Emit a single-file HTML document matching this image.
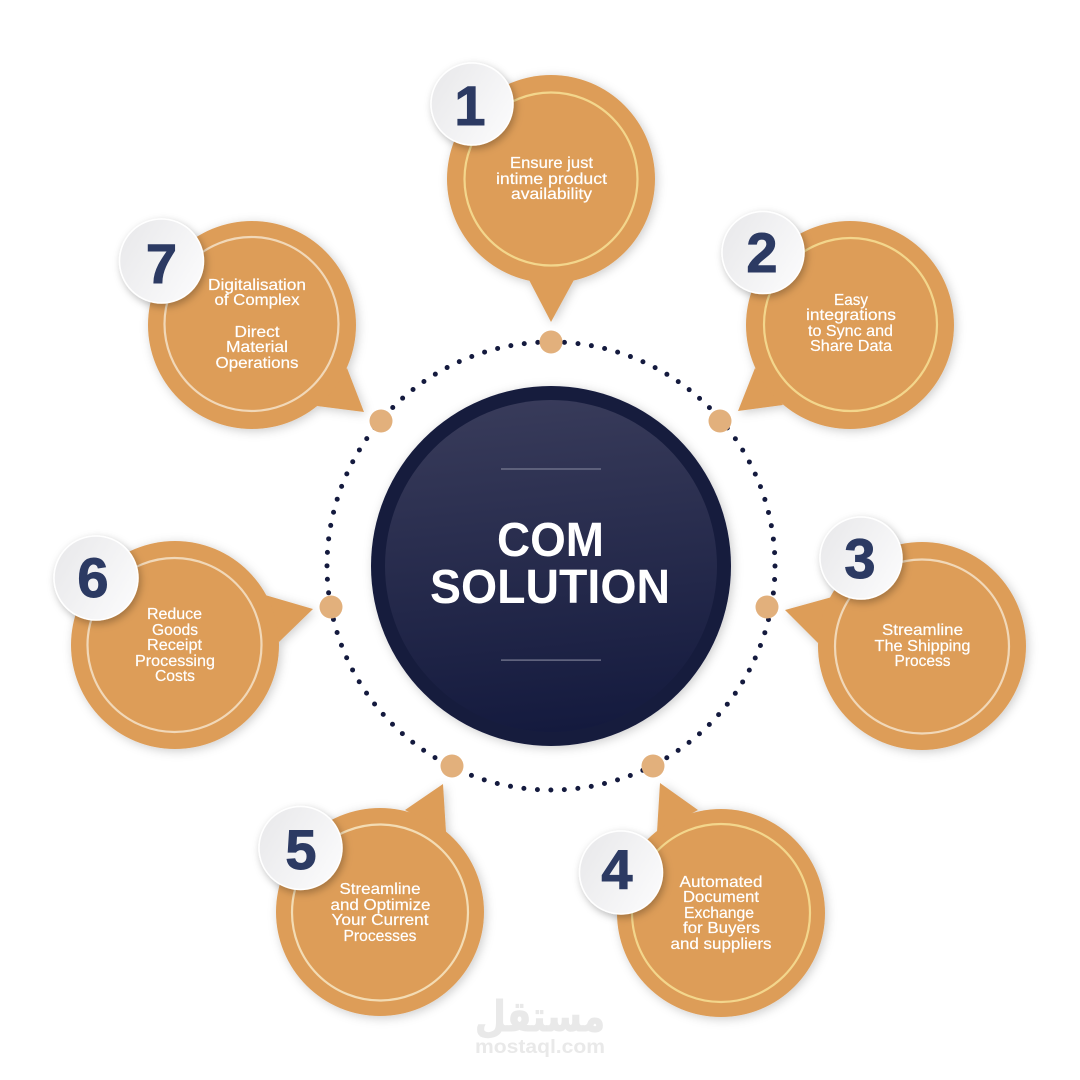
<!DOCTYPE html>
<html><head><meta charset="utf-8"><style>
html,body{margin:0;padding:0;background:#fff}
svg{display:block}
.t{font-family:"Liberation Sans",sans-serif;font-size:16px;fill:#fff;text-anchor:middle;stroke:#fff;stroke-width:.2px}
.n{font-family:"Liberation Sans",sans-serif;font-size:56px;font-weight:bold;fill:#2c3a63;text-anchor:middle;stroke:#2c3a63;stroke-width:1px}
.h{font-family:"Liberation Sans",sans-serif;font-size:48px;font-weight:bold;fill:#fff;text-anchor:middle}
</style></head><body>
<svg width="1080" height="1080" viewBox="0 0 1080 1080" xmlns="http://www.w3.org/2000/svg">
<defs>
<linearGradient id="g" x1="0.45" y1="0" x2="0.55" y2="1"><stop offset="0" stop-color="#383b5a"/><stop offset="1" stop-color="#141a3e"/></linearGradient>
<linearGradient id="b" x1="0" y1="0.2" x2="1" y2="0.8"><stop offset="0" stop-color="#e9e9eb"/><stop offset="1" stop-color="#fbfbfc"/></linearGradient>
<filter id="s" x="-20%" y="-20%" width="140%" height="140%"><feDropShadow dx="2" dy="2" stdDeviation="5" flood-color="#000" flood-opacity=".2"/></filter>
<filter id="s2" x="-20%" y="-20%" width="140%" height="140%"><feDropShadow dx="2" dy="3" stdDeviation="4" flood-color="#000" flood-opacity=".28"/></filter>
</defs>

<!-- dotted ring -->
<circle cx="551" cy="566" r="224" fill="none" stroke="#141a3e" stroke-width="5" stroke-linecap="round" stroke-dasharray="0 13.533" transform="rotate(-90 551 566)"/>
<g fill="#e2b07c">
<circle cx="551" cy="342" r="11.5"/><circle cx="720" cy="421" r="11.5"/><circle cx="767" cy="607" r="11.5"/><circle cx="653" cy="766" r="11.5"/><circle cx="452" cy="766" r="11.5"/><circle cx="331" cy="607" r="11.5"/><circle cx="381" cy="421" r="11.5"/>
</g>

<!-- centre -->
<circle cx="551" cy="566" r="180" fill="#141a3e" filter="url(#s)"/>
<circle cx="551" cy="566" r="166" fill="url(#g)"/>
<rect x="501" y="468.500" width="100" height="1" fill="#8a8da2"/>
<rect x="501" y="659.500" width="100" height="1.200" fill="#7d8097"/>
<text class="h" x="550.500" y="556" textLength="107" lengthAdjust="spacingAndGlyphs">COM</text>
<text class="h" x="550" y="603" textLength="240" lengthAdjust="spacingAndGlyphs">SOLUTION</text>

<!-- bubbles -->
<g fill="#dd9d59" filter="url(#s)">
<path d="M551 322L528 278H575Z"/><circle cx="551" cy="179" r="104"/>
</g>
<g fill="#dd9d59" filter="url(#s)">
<path d="M738 411L755 368L783 405Z"/><circle cx="850" cy="325" r="104"/>
</g>
<g fill="#dd9d59" filter="url(#s)">
<path d="M785 610L832 597L818 643Z"/><circle cx="922" cy="646" r="104"/>
</g>
<g fill="#dd9d59" filter="url(#s)">
<path d="M660 783L698 810L657 832Z"/><circle cx="721" cy="913" r="104"/>
</g>
<g fill="#dd9d59" filter="url(#s)">
<path d="M443 784L405 810L446 832Z"/><circle cx="380" cy="912" r="104"/>
</g>
<g fill="#dd9d59" filter="url(#s)">
<path d="M313 609L265 595L279 642Z"/><circle cx="175" cy="645" r="104"/>
</g>
<g fill="#dd9d59" filter="url(#s)">
<path d="M364 412L347 368L317 406Z"/><circle cx="252" cy="325" r="104"/>
</g>

<!-- inner rings -->
<g fill="none" stroke-width="2.200">
<circle cx="551" cy="179" r="86.500" stroke="#f3d68c"/>
<circle cx="850.500" cy="324.500" r="86.500" stroke="#f3d68c"/>
<circle cx="922" cy="646.500" r="87" stroke="#f1d8b8"/>
<circle cx="721" cy="913" r="89" stroke="#f3d68c"/>
<circle cx="380" cy="912.500" r="88" stroke="#f3dcb4"/>
<circle cx="174.500" cy="645" r="87" stroke="#f1d8b8"/>
<circle cx="251.500" cy="324" r="87" stroke="#f1d8b8"/>
</g>

<!-- badges -->
<g fill="url(#b)" stroke="#fff" stroke-width="1.500" filter="url(#s2)">
<circle cx="472" cy="104" r="41"/>
<circle cx="763" cy="252.500" r="41"/>
<circle cx="861" cy="558" r="41"/>
<circle cx="621" cy="872.500" r="41.500"/>
<circle cx="300.500" cy="848" r="41.500"/>
<circle cx="96" cy="578" r="42"/>
<circle cx="161.500" cy="261" r="42"/>
</g>
<text class="n" x="470" y="125">1</text>
<text class="n" x="762" y="272">2</text>
<text class="n" x="860" y="578">3</text>
<text class="n" x="617" y="889">4</text>
<text class="n" x="301" y="869">5</text>
<text class="n" x="93" y="597">6</text>
<text class="n" x="161.500" y="283">7</text>

<!-- labels -->
<text class="t" x="551.500" y="168" textLength="83" lengthAdjust="spacingAndGlyphs">Ensure just</text>
<text class="t" x="551.500" y="184" textLength="111" lengthAdjust="spacingAndGlyphs">intime product</text>
<text class="t" x="551.500" y="199" textLength="81" lengthAdjust="spacingAndGlyphs">availability</text>

<text class="t" x="851" y="305" textLength="34" lengthAdjust="spacingAndGlyphs">Easy</text>
<text class="t" x="851" y="320" textLength="90" lengthAdjust="spacingAndGlyphs">integrations</text>
<text class="t" x="850.500" y="336" textLength="85" lengthAdjust="spacingAndGlyphs">to Sync and</text>
<text class="t" x="851" y="351" textLength="82" lengthAdjust="spacingAndGlyphs">Share Data</text>

<text class="t" x="922.500" y="635" textLength="81" lengthAdjust="spacingAndGlyphs">Streamline</text>
<text class="t" x="922.500" y="651" textLength="96" lengthAdjust="spacingAndGlyphs">The Shipping</text>
<text class="t" x="922.500" y="666" textLength="56" lengthAdjust="spacingAndGlyphs">Process</text>

<text class="t" x="721" y="887" textLength="83" lengthAdjust="spacingAndGlyphs">Automated</text>
<text class="t" x="721" y="902" textLength="76" lengthAdjust="spacingAndGlyphs">Document</text>
<text class="t" x="719" y="918" textLength="70" lengthAdjust="spacingAndGlyphs">Exchange</text>
<text class="t" x="721.500" y="933" textLength="77" lengthAdjust="spacingAndGlyphs">for Buyers</text>
<text class="t" x="721" y="949" textLength="101" lengthAdjust="spacingAndGlyphs">and suppliers</text>

<text class="t" x="380" y="894" textLength="81" lengthAdjust="spacingAndGlyphs">Streamline</text>
<text class="t" x="380.500" y="910" textLength="100" lengthAdjust="spacingAndGlyphs">and Optimize</text>
<text class="t" x="380" y="925" textLength="97" lengthAdjust="spacingAndGlyphs">Your Current</text>
<text class="t" x="380" y="941" textLength="73" lengthAdjust="spacingAndGlyphs">Processes</text>

<text class="t" x="174.500" y="619" textLength="55" lengthAdjust="spacingAndGlyphs">Reduce</text>
<text class="t" x="175" y="635" textLength="46" lengthAdjust="spacingAndGlyphs">Goods</text>
<text class="t" x="174.500" y="650" textLength="55" lengthAdjust="spacingAndGlyphs">Receipt</text>
<text class="t" x="175" y="666" textLength="80" lengthAdjust="spacingAndGlyphs">Processing</text>
<text class="t" x="175" y="681" textLength="40" lengthAdjust="spacingAndGlyphs">Costs</text>

<text class="t" x="257" y="290" textLength="98" lengthAdjust="spacingAndGlyphs">Digitalisation</text>
<text class="t" x="257" y="305" textLength="85" lengthAdjust="spacingAndGlyphs">of Complex</text>
<text class="t" x="257" y="337" textLength="45" lengthAdjust="spacingAndGlyphs">Direct</text>
<text class="t" x="257" y="352" textLength="62" lengthAdjust="spacingAndGlyphs">Material</text>
<text class="t" x="257" y="368" textLength="83" lengthAdjust="spacingAndGlyphs">Operations</text>

<!-- watermark -->
<text x="540" y="1031" font-family="'DejaVu Sans',sans-serif" font-weight="bold" font-size="42" fill="#e9e9e9" stroke="#e9e9e9" stroke-width="1" text-anchor="middle" textLength="130" lengthAdjust="spacingAndGlyphs">مستقل</text>
<text x="540" y="1053" font-family="'Liberation Sans',sans-serif" font-weight="bold" font-size="19" fill="#e9e9e9" text-anchor="middle" textLength="130" lengthAdjust="spacingAndGlyphs">mostaql.com</text>
</svg>
</body></html>
